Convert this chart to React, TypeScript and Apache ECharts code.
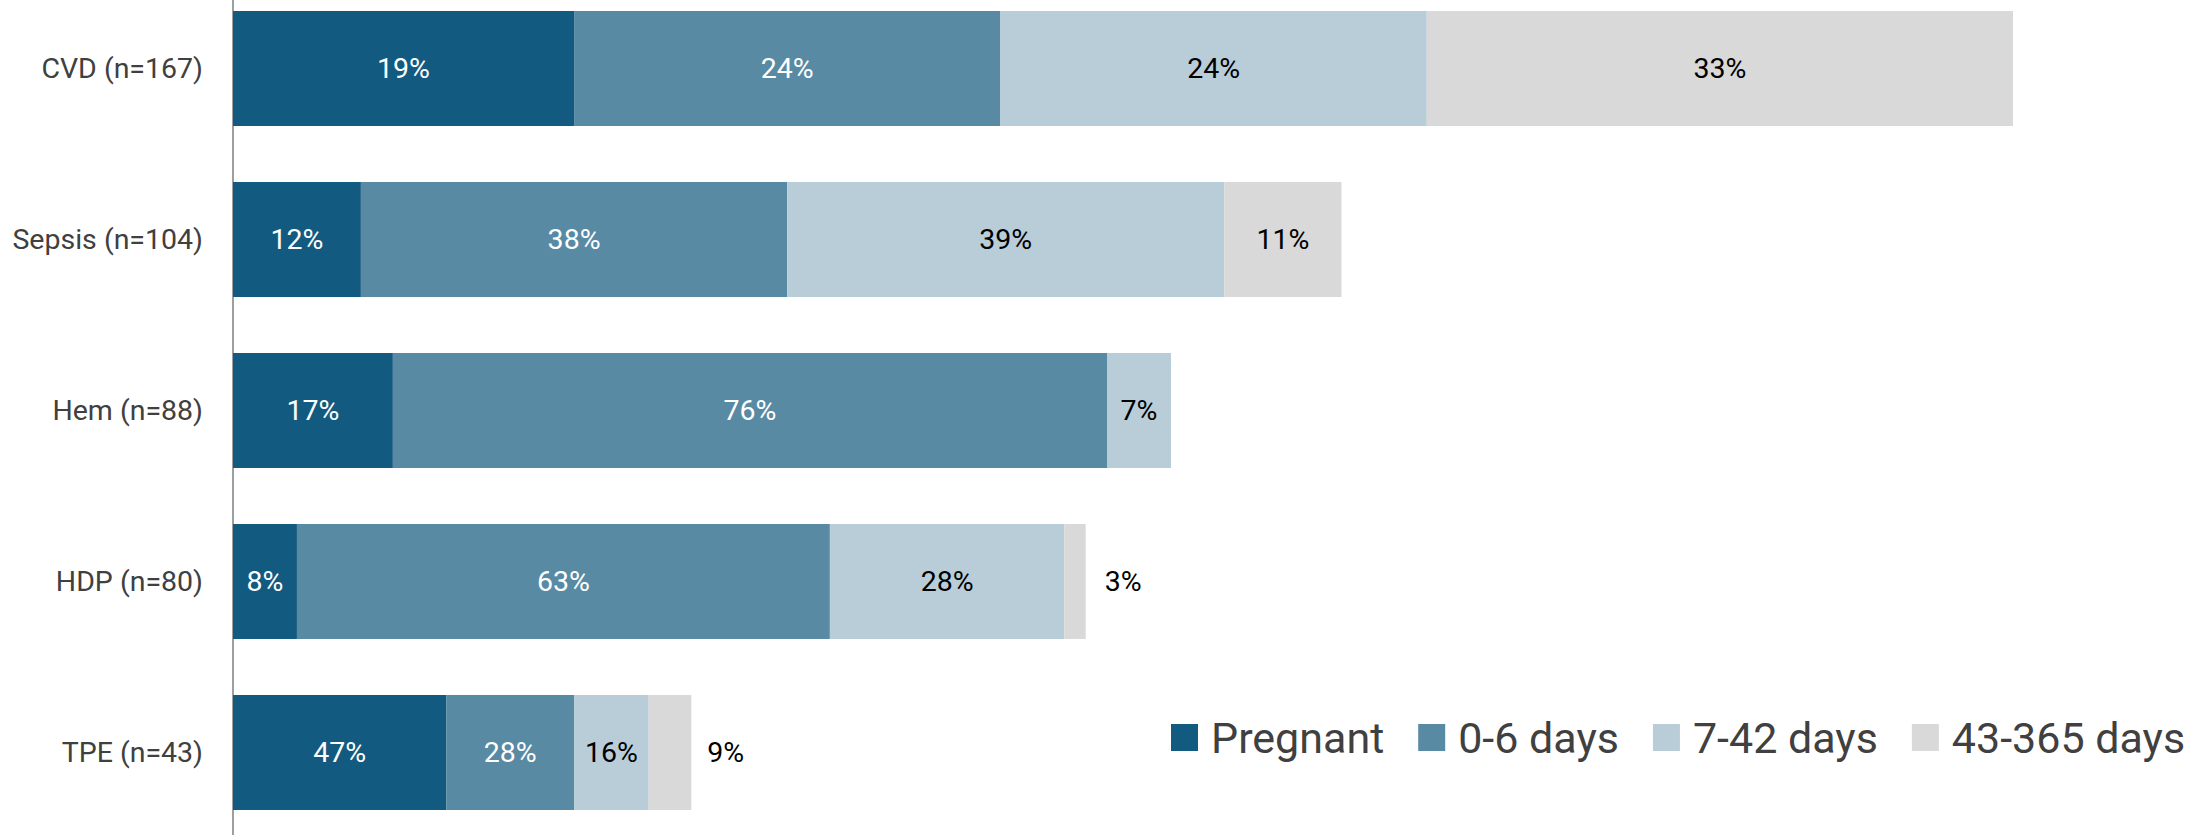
import React, { useEffect, useRef } from "react";
import * as echarts from "echarts";

const categories = ["CVD (n=167)", "Sepsis (n=104)", "Hem (n=88)", "HDP (n=80)", "TPE (n=43)"];
const seriesNames = ["Pregnant", "0-6 days", "7-42 days", "43-365 days"];
const pregnant = [32, 12, 15, 6, 20];
const days0to6 = [40, 40, 67, 50, 12];
const days7to42 = [40, 41, 6, 22, 7];
const days43to365 = [55, 11, 0, 2, 4];
const seriesValues = [pregnant, days0to6, days7to42, days43to365];
const colors = ["#135A80", "#588AA4", "#B8CDD8", "#D9D9D9"];
const labelColors = ["#FFFFFF", "#FFFFFF", "#000000", "#000000"];
// labels placed beside the bar (index: distance)
const outsideLabels: Record<number, number> = { 3: 19, 4: 16 };

const FONT = "Roboto";
const SHIFT = 17;

export default function App() {
  const ref = useRef<HTMLDivElement>(null);
  useEffect(() => {
    if (!ref.current) return;
    const chart = echarts.init(ref.current, undefined, { renderer: "svg" });
    const totals = categories.map((_, i) => seriesValues.reduce((s, arr) => s + arr[i], 0));
    const maxTotal = Math.max(...totals);
    const series = seriesValues.map((vals, si) => ({
      name: seriesNames[si],
      type: "bar",
      stack: "total",
      barWidth: 115,
      itemStyle: { color: colors[si] },
      label: {
        show: true,
        position: "inside",
        color: labelColors[si],
        fontSize: 28.5,
        fontFamily: FONT,
        formatter: (p: any) => `${Math.round((p.value * 100) / totals[p.dataIndex])}%`,
      },
      data: vals.map((v, i) => {
        if (v === 0) return { value: v, label: { show: false } };
        if (si === 3 && outsideLabels[i] !== undefined) {
          return { value: v, label: { position: "right", distance: outsideLabels[i] } };
        }
        return { value: v };
      }),
    }));
    chart.setOption({
      animation: false,
      backgroundColor: "#FFFFFF",
      grid: { left: 233, top: 0, width: 1780, height: 855, containLabel: false },
      legend: {
        data: seriesNames,
        icon: "rect",
        itemWidth: 27,
        itemHeight: 27,
        itemGap: 34,
        left: 1166,
        top: 713 + SHIFT - 2,
        textStyle: { fontSize: 43, color: "#404040", fontFamily: FONT, padding: [0, 0, 0, 8] },
      },
      xAxis: {
        type: "value",
        min: 0,
        max: maxTotal,
        show: false,
        splitLine: { show: false },
      },
      yAxis: {
        type: "category",
        data: categories,
        inverse: true,
        axisLine: { show: true, lineStyle: { color: "#7F7F7F", width: 1.5 } },
        axisTick: { show: false },
        axisLabel: { color: "#404040", fontSize: 28.5, fontFamily: FONT, margin: 30 },
      },
      series,
    });
    return () => chart.dispose();
  }, []);
  return (
    <div
      ref={ref}
      style={{ position: "fixed", left: 0, top: -SHIFT, width: 2206, height: 855 + SHIFT, background: "#fff" }}
    />
  );
}
